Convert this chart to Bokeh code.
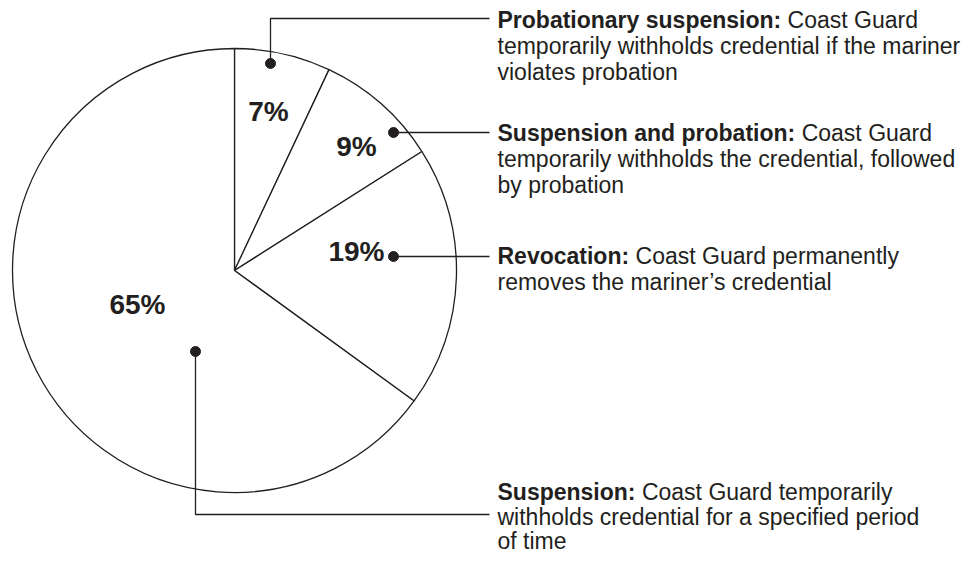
import math
import pandas as pd
from bokeh.plotting import figure
from bokeh.models import ColumnDataSource, Range1d
from bokeh.core.properties import value
from bokeh.embed import file_html
from bokeh.resources import INLINE

# ---------------- data ----------------
categories = ["Probationary suspension", "Suspension and probation", "Revocation", "Suspension"]
shares = [7, 9, 19, 65]
pct_labels = ["7%", "9%", "19%", "65%"]
heads = ["Probationary suspension:", "Suspension and probation:", "Revocation:", "Suspension:"]
bodies = [
    ["Coast Guard", "temporarily withholds credential if the mariner", "violates probation"],
    ["Coast Guard", "temporarily withholds the credential, followed", "by probation"],
    ["Coast Guard permanently", "removes the mariner\u2019s credential"],
    ["Coast Guard temporarily", "withholds credential for a specified period", "of time"],
]

# ---------------- layout (pixels from the picture's top-left) ----------------
W, H = 969, 554
def Y(py):
    return H - py

CX, CY, R = 234, 270, 222
INK = "#231f20"
FONT = "Liberation Sans"
FS = 23
PFS = 28

pct_pos = [(268, 111), (356, 146), (356, 251), (137, 304)]          # label centre x, baseline y
dot_pos = [(270, 63), (393, 132), (393, 256), (195, 351)]
leader_paths = [
    [(270, 63), (270, 18), (489, 18)],
    [(393, 132), (489, 132)],
    [(393, 256), (489, 256)],
    [(195, 351), (195, 514), (489, 514)],
]
text_x = 497
text_baselines = [[19, 45, 71], [132, 158, 184], [255, 281], [491, 516, 540]]

BOLD_W = {"P": 667, "r": 389, "o": 611, "b": 611, "a": 556, "t": 333, "i": 278, "n": 611,
          "y": 556, " ": 278, "s": 556, "u": 611, "p": 611, "e": 556, ":": 333, "S": 667,
          "d": 611, "R": 722, "v": 556, "c": 556}
def bold_width(s, fs):
    return sum(BOLD_W.get(ch, 600) for ch in s) * fs / 1000.0

# ---------------- figure ----------------
p = figure(width=W, height=H, output_backend="svg", toolbar_location=None,
           x_range=Range1d(0, W), y_range=Range1d(0, H), min_border=0)
p.axis.visible = False
p.grid.visible = False
p.outline_line_color = None
p.background_fill_color = "white"
p.border_fill_color = "white"

df = pd.DataFrame({"cat": categories, "share": shares})
frac = df["share"] / df["share"].sum()
cum = frac.cumsum()
df["start"] = math.pi / 2 - 2 * math.pi * (cum - frac)
df["end"] = math.pi / 2 - 2 * math.pi * cum
df["x"] = CX
df["y"] = Y(CY)
src = ColumnDataSource(df)

p.wedge(x="x", y="y", radius=R, radius_units="screen", start_angle="start", end_angle="end",
        direction="clock", fill_color="white", line_color=INK, line_width=1.3, source=src)

# leader lines
for path in leader_paths:
    p.line([q[0] for q in path], [Y(q[1]) for q in path], line_color=INK, line_width=1.3)

# dots
p.scatter([d[0] for d in dot_pos], [Y(d[1]) for d in dot_pos], size=10,
          fill_color=INK, line_color=INK)

# percent labels
p.text(x=[q[0] for q in pct_pos], y=[Y(q[1]) for q in pct_pos], text=pct_labels,
       text_font=value(FONT), text_font_size=f"{PFS}px", text_font_style="bold",
       text_color=INK, text_align="center", text_baseline="alphabetic")

# descriptive labels
for head, body, bases in zip(heads, bodies, text_baselines):
    p.text(x=[text_x], y=[Y(bases[0])], text=[head], text_font=value(FONT),
           text_font_size=f"{FS}px", text_font_style="bold", text_color=INK,
           text_align="left", text_baseline="alphabetic")
    tail_x = text_x + bold_width(head, FS) + 0.278 * FS
    p.text(x=[tail_x], y=[Y(bases[0])], text=[body[0]], text_font=value(FONT),
           text_font_size=f"{FS}px", text_color=INK, text_align="left",
           text_baseline="alphabetic")
    for line, b in zip(body[1:], bases[1:]):
        p.text(x=[text_x], y=[Y(b)], text=[line], text_font=value(FONT),
               text_font_size=f"{FS}px", text_color=INK, text_align="left",
               text_baseline="alphabetic")

open("out.html", "w").write(file_html(p, INLINE))
